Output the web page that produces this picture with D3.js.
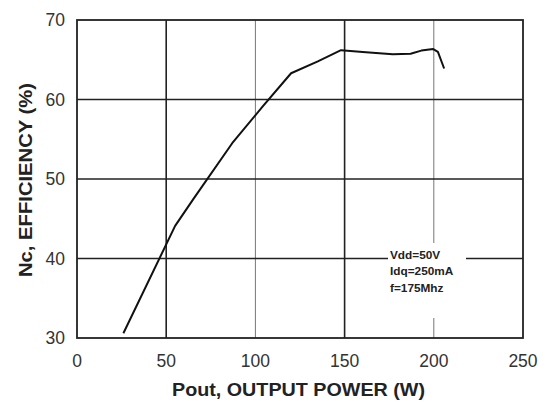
<!DOCTYPE html>
<html>
<head>
<meta charset="utf-8">
<script src="https://cdn.jsdelivr.net/npm/d3@7"></script>
<style>
  body { margin: 0; background: #fff; }
  svg { font-family: "Liberation Sans", Arial, sans-serif; }
</style>
</head>
<body>
<svg width="548" height="403"></svg>
<script>
// data
const pout = [26, 55, 65, 87, 104, 120, 135, 148, 162, 177, 187, 193, 199.7, 202.3, 205.8];
const eff = [30.6, 44.1, 47.4, 54.5, 59.1, 63.3, 64.8, 66.2, 65.95, 65.7, 65.75, 66.15, 66.35, 66.0, 63.9];
const xTicks = [0, 50, 100, 150, 200, 250];
const yTicks = [30, 40, 50, 60, 70];
const notes = ["Vdd=50V", "Idq=250mA", "f=175Mhz"];

const svg = d3.select("svg");
const pLeft = 77, pRight = 523, pTop = 20, pBottom = 338;

const x = d3.scaleLinear().domain([0, 250]).range([pLeft, pRight]);
const y = d3.scaleLinear().domain([30, 70]).range([pBottom, pTop]);

// grid
const grid = svg.append("g");
grid.selectAll("line.v")
    .data(xTicks.slice(1, -1))
    .join("line")
    .attr("x1", d => x(d)).attr("x2", d => x(d))
    .attr("y1", pTop).attr("y2", pBottom)
    .attr("stroke", d => d % 100 === 0 ? "#777" : "#222")
    .attr("stroke-width", d => d % 100 === 0 ? 1 : 1.6);

grid.selectAll("line.h")
    .data(yTicks.slice(1, -1))
    .join("line")
    .attr("x1", pLeft).attr("x2", pRight)
    .attr("y1", d => y(d)).attr("y2", d => y(d))
    .attr("stroke", "#222")
    .attr("stroke-width", 1.6);

// box behind the notes, breaking the grid
svg.append("rect")
    .attr("x", 388).attr("y", 243)
    .attr("width", 78).attr("height", 75)
    .attr("fill", "#fff");

// frame
svg.append("rect")
    .attr("x", pLeft).attr("y", pTop)
    .attr("width", pRight - pLeft).attr("height", pBottom - pTop)
    .attr("fill", "none")
    .attr("stroke", "#222")
    .attr("stroke-width", 1.8);

// curve
const line = d3.line().x(d => x(d)).y((d, i) => y(eff[i]));
svg.append("path")
    .attr("d", line(pout))
    .attr("fill", "none")
    .attr("stroke", "#111")
    .attr("stroke-width", 2)
    .attr("stroke-linejoin", "round");

// tick labels
svg.append("g").selectAll("text")
    .data(xTicks)
    .join("text")
    .attr("x", d => x(d))
    .attr("y", 367)
    .attr("text-anchor", "middle")
    .attr("font-size", 17.5)
    .attr("fill", "#333")
    .text(d => d);

svg.append("g").selectAll("text")
    .data(yTicks)
    .join("text")
    .attr("x", 65)
    .attr("y", d => y(d) + 6)
    .attr("text-anchor", "end")
    .attr("font-size", 17.5)
    .attr("fill", "#333")
    .text(d => d);

// axis titles
svg.append("text")
    .attr("x", 172)
    .attr("y", 396)
    .attr("font-size", 18.5)
    .attr("font-weight", "bold")
    .attr("fill", "#222")
    .attr("textLength", 253)
    .attr("lengthAdjust", "spacingAndGlyphs")
    .text("Pout, OUTPUT POWER (W)");

svg.append("text")
    .attr("transform", "translate(31.5,277) rotate(-90)")
    .attr("font-size", 18.5)
    .attr("font-weight", "bold")
    .attr("fill", "#222")
    .attr("textLength", 194)
    .attr("lengthAdjust", "spacingAndGlyphs")
    .text("Nc, EFFICIENCY (%)");

// notes
svg.append("g").selectAll("text")
    .data(notes)
    .join("text")
    .attr("x", 390)
    .attr("y", (d, i) => 258.5 + i * 16.6)
    .attr("font-size", 11.8)
    .attr("font-weight", "bold")
    .attr("fill", "#222")
    .text(d => d);
</script>
</body>
</html>
